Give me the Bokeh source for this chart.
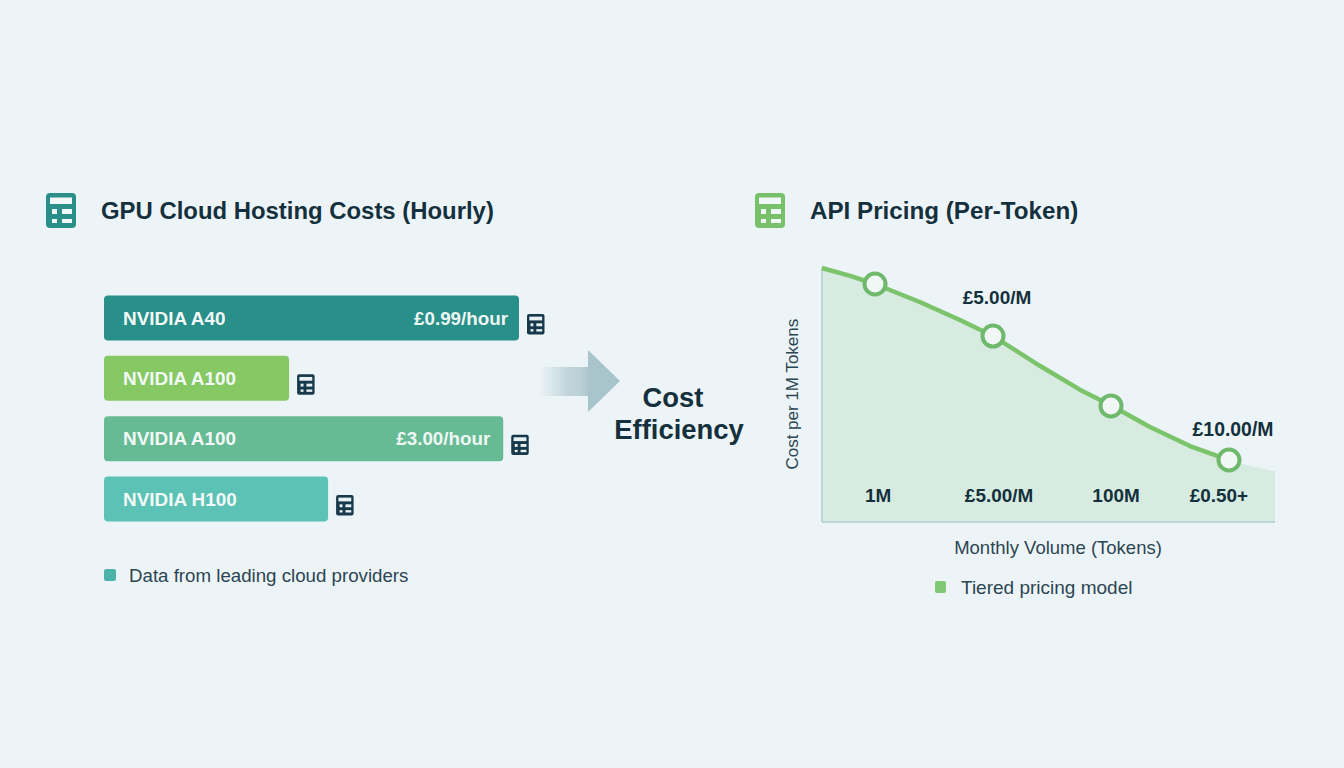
from bokeh.plotting import figure
from bokeh.models import Range1d
from bokeh.embed import file_html
from bokeh.resources import INLINE
from bokeh.core.properties import value
import math

# ---- data ----
gpu_names = ["NVIDIA A40", "NVIDIA A100", "NVIDIA A100", "NVIDIA H100"]
gpu_relative_cost = [100.0, 44.6, 96.2, 54.0]
gpu_price_labels = ["£0.99/hour", "", "£3.00/hour", ""]
gpu_colors = ["#288f89", "#86c964", "#66bb94", "#5cc2b6"]

curve_volume = [0.55, 0.79, 1.0, 1.38, 1.72, 2.0, 2.4, 2.74, 3.01, 3.33, 3.67, 4.0, 4.18, 4.39]
curve_cost = [10.0, 9.69, 9.37, 8.66, 7.95, 7.32, 6.14, 5.2, 4.57, 3.74, 2.99, 2.44, 2.2, 2.0]
point_volume = [1, 2, 3, 4]
point_cost = [9.37, 7.32, 4.57, 2.44]
tick_labels = ["1M", "£5.00/M", "100M", "£0.50+"]
point_notes = ["", "£5.00/M", "", "£10.00/M"]

BG = "#edf4f8"
INK = "#14303c"
SOFT = "#2c4552"
FONT = value("Liberation Sans")

W, H = 1328, 752
# page pixels are the main coordinate system
p = figure(width=W, height=H, x_range=Range1d(0.5, W + 0.5), y_range=Range1d(H + 0.5, 0.5),
           toolbar_location=None, output_backend="svg", min_border=0,
           background_fill_color=BG, border_fill_color=BG, outline_line_color=None)
p.xaxis.visible = False
p.yaxis.visible = False
p.grid.visible = False

def linear_range(px0, v0, px1, v1, lo, hi):
    k = (v1 - v0) / (px1 - px0)
    return Range1d(v0 + (lo - px0) * k, v0 + (hi - px0) * k)

p.extra_x_ranges = {
    "bar_x": linear_range(104, 0, 519, 100, 0.5, W + 0.5),
    "vol_x": linear_range(875, 1, 1229, 4, 0.5, W + 0.5),
}
p.extra_y_ranges = {
    "bar_y": linear_range(318, 0, 499, 3, H + 0.5, 0.5),
    "cost_y": linear_range(522, 0, 268, 10, H + 0.5, 0.5),
}

def txt(x, y, s, size, color=INK, style="normal", align="left", angle=0.0, **kw):
    p.text([x], [y], text=[s], text_font=FONT, text_font_size=f"{size}px", text_font_style=style,
           text_color=color, text_align=align, text_baseline="middle", angle=angle, **kw)

def icon(x0, y0, w, color, hole):
    h = w * 35 / 30
    s = w / 30
    p.quad(left=[x0], right=[x0 + w], top=[y0], bottom=[y0 + h], fill_color=color, line_color=None,
           border_radius=max(2, round(4 * s)))
    holes = [(4, 26, 4.5, 11), (6, 11, 16, 21), (16, 26, 16, 21), (6, 11, 26, 30), (16, 26, 26, 30)]
    p.quad(left=[x0 + a * s for a, b, c, d in holes], right=[x0 + b * s for a, b, c, d in holes],
           top=[y0 + c * s for a, b, c, d in holes], bottom=[y0 + d * s for a, b, c, d in holes],
           fill_color=hole, line_color=None)

# ---- headers ----
icon(46, 193, 30, "#2a8f88", "#f2f7fa")
txt(101, 210, "GPU Cloud Hosting Costs (Hourly)", 23.9, style="bold")
icon(755, 193, 30, "#78c069", "#f2f7fa")
txt(810, 210, "API Pricing (Per-Token)", 24.2, style="bold")

# ---- bars ----
rows = list(range(len(gpu_names)))
p.hbar(y=rows, left=[0] * 4, right=gpu_relative_cost, height=0.746, fill_color=gpu_colors, line_color=None,
       border_radius=4, x_range_name="bar_x", y_range_name="bar_y")
p.text(x=[0] * 4, y=rows, text=gpu_names, x_offset=19, text_font=FONT, text_font_size="18.9px",
       text_font_style="bold", text_color="#f2f9f7", text_baseline="middle",
       x_range_name="bar_x", y_range_name="bar_y")
for r, v, lab in zip(rows, gpu_relative_cost, gpu_price_labels):
    if lab:
        p.text(x=[v], y=[r], text=[lab], x_offset=-11 if r == 0 else -13, text_font=FONT, text_font_size="18.8px",
               text_font_style="bold", text_color="#eef6f3", text_align="right", text_baseline="middle",
               x_range_name="bar_x", y_range_name="bar_y")
    px = 104 + v * 4.15
    py = 318 + r * 60.33
    icon(px + 8, py - 4, 17.5, "#17394a", "#e9f1f5")

p.quad(left=[104], right=[116], top=[569], bottom=[581], fill_color="#4bb3aa", line_color=None, border_radius=2)
txt(129, 575, "Data from leading cloud providers", 18.7, color=SOFT)

# ---- arrow ----
n = 50
xs = [540 + i * (588 - 540) / n for i in range(n)]
p.quad(left=xs, right=[x + 1.2 for x in xs], top=[367] * n, bottom=[396] * n, line_color=None,
       fill_color="#a9c4cb", fill_alpha=[0.02 + 0.95 * i / n for i in range(n)])
p.patch([588, 620, 588], [350, 381, 412], fill_color="#a9c4cb", line_color=None)
txt(673, 397, "Cost", 27.4, style="bold", align="center")
txt(679, 429, "Efficiency", 27.4, style="bold", align="center")

# ---- area chart ----
p.varea(x=curve_volume, y1=[0] * len(curve_cost), y2=curve_cost, fill_color="#d7ebe0",
        x_range_name="vol_x", y_range_name="cost_y")
p.segment([822, 822], [268, 522], [822, 1275], [522, 522], line_color="#bcd6d6", line_width=2)
p.line(curve_volume[:12], curve_cost[:12], line_color="#7cc46b", line_width=4.5,
       x_range_name="vol_x", y_range_name="cost_y")
p.scatter(point_volume, point_cost, size=21, fill_color="#f1f7f5", line_color="#6fb96c", line_width=4,
          x_range_name="vol_x", y_range_name="cost_y")
tick_x = [878, 999, 1116, 1219]
for x, s in zip(tick_x, tick_labels):
    txt(x, 495, s, 18.9, style="bold", align="center")
txt(997, 297, point_notes[1], 19, style="bold", align="center")
txt(1233, 429, point_notes[3], 19.4, style="bold", align="center")
txt(792, 394, "Cost per 1M Tokens", 17, color=SOFT, align="center", angle=math.pi / 2)
txt(1058, 547, "Monthly Volume (Tokens)", 18.5, color=SOFT, align="center")
p.quad(left=[935], right=[946], top=[581], bottom=[593], fill_color="#7fc874", line_color=None, border_radius=2)
txt(961, 587, "Tiered pricing model", 19, color=SOFT)

html = file_html(p, INLINE)
html = html.replace("<head>", f"<head><style>html,body{{background:{BG};margin:0;padding:0;}}</style>", 1)
open("out.html", "w").write(html)
